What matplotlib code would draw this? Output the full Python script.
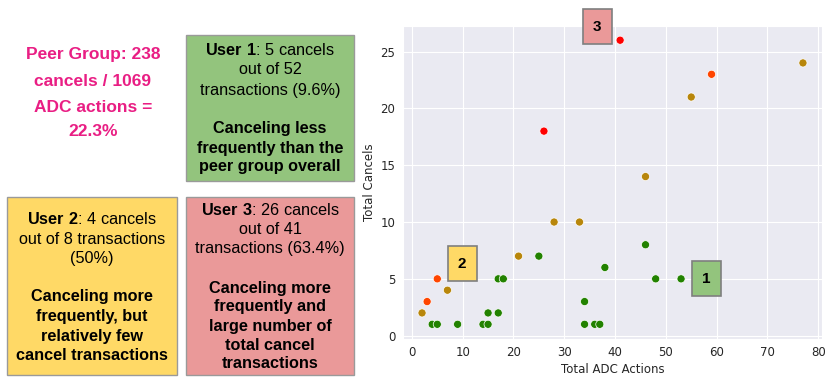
import matplotlib
matplotlib.use("Agg")
import matplotlib.pyplot as plt
import seaborn as sns
from matplotlib.patches import Rectangle

sns.set_style("darkgrid")
plt.rcParams['font.family'] = ['DejaVu Sans']
plt.rcParams['mathtext.fontset'] = 'custom'
plt.rcParams['mathtext.bf'] = 'Liberation Sans:bold'
plt.rcParams['mathtext.rm'] = 'Liberation Sans'

# data
total_actions = [26, 41, 59, 5, 3, 77, 55, 46, 28, 33, 21, 7, 2,
                 46, 38, 48, 53, 25, 17, 18, 15, 17, 34, 4, 5, 9, 14, 15, 34, 36, 37]
total_cancels = [18, 26, 23, 5, 3, 24, 21, 14, 10, 10, 7, 4, 2,
                 8, 6, 5, 5, 7, 5, 5, 2, 2, 3, 1, 1, 1, 1, 1, 1, 1, 1]
point_group = ['red', 'red', 'orange', 'orange', 'orange',
               'gold', 'gold', 'gold', 'gold', 'gold', 'gold', 'gold', 'gold',
               'green', 'green', 'green', 'green', 'green', 'green', 'green', 'green',
               'green', 'green', 'green', 'green', 'green', 'green', 'green', 'green', 'green', 'green']
group_colors = {'red': '#ff0000', 'orange': '#ff4500', 'gold': '#b8860b', 'green': '#228200'}

marker_labels = ['1', '2', '3']
marker_pos_x = [58.0, 9.9, 36.5]
marker_pos_y = [5.0, 6.35, 27.2]
marker_colors = ['#93c47d', '#ffd966', '#ea9999']

peer_lines = ['Peer Group: 238', 'cancels / 1069', 'ADC actions =', '22.3%']

W, H = 831, 385
fig = plt.figure(figsize=(W / 100, H / 100), dpi=100)
ax = fig.add_axes([403 / W, 1 - 338.5 / H, (822 - 403) / W, (338.5 - 26) / H])

ax.scatter(total_actions, total_cancels, c=[group_colors[g] for g in point_group],
           s=34, edgecolors='white', linewidths=0.5, zorder=3)
ax.set_xlabel('Total ADC Actions', fontsize=8.5, color='#262626', labelpad=3)
ax.set_ylabel('Total Cancels', fontsize=8.5, color='#262626', labelpad=3)
ax.tick_params(labelsize=8.5, colors='#262626', pad=2)
ax.set_xticks([0, 10, 20, 30, 40, 50, 60, 70, 80])
ax.set_yticks([0, 5, 10, 15, 20, 25])

for lab, x, y, col in zip(marker_labels, marker_pos_x, marker_pos_y, marker_colors):
    ax.text(x, y, lab, ha='center', va='center', fontsize=11, fontweight='bold',
            family='Liberation Sans', color='black', zorder=5, clip_on=False,
            bbox=dict(boxstyle='square,pad=0.68', fc=col, ec='#7f7f7f', lw=1.2))

# left side boxes (figure pixel coords)
def fig_rect(x0, y0, x1, y1, fc):
    fig.patches.append(Rectangle((x0 / W, 1 - y1 / H), (x1 - x0) / W, (y1 - y0) / H,
                                 transform=fig.transFigure, fc=fc, ec='#9a9a9a', lw=1.0))

fig_rect(186, 35, 354, 181, '#93c47d')
fig_rect(7, 197, 177, 375, '#ffd966')
fig_rect(186, 197, 354, 375, '#ea9999')

fam = 'Liberation Sans'
for y, txt in zip([55, 81.5, 107.5, 132], peer_lines):
    fig.text(93 / W, 1 - y / H, txt, ha='center', va='center', fontsize=12.5,
             fontweight='bold', color='#e91e84', family=fam)

FS = 11.7

def lines(xc, ys, items):
    for y, (txt, bold_prefix) in zip(ys, items):
        if bold_prefix is None:
            fig.text(xc / W, 1 - y / H, txt, ha='center', va='center', fontsize=FS,
                     fontweight='bold', family=fam, color='black')
        elif bold_prefix == '':
            fig.text(xc / W, 1 - y / H, txt, ha='center', va='center', fontsize=FS,
                     family=fam, color='black')
        else:
            fig.text(xc / W, 1 - y / H, r'$\bf{' + bold_prefix.replace(' ', r'\ ') + '}$' + txt,
                     ha='center', va='center', fontsize=FS, family=fam, color='black')

lines(270, [50, 70, 90, 129, 148, 167],
      [(': 5 cancels', 'User 1'), ('out of 52', ''), ('transactions (9.6%)', ''),
       ('Canceling less', None), ('frequently than the', None), ('peer group overall', None)])
lines(92, [219, 239, 258, 297, 316, 336, 355],
      [(': 4 cancels', 'User 2'), ('out of 8 transactions', ''), ('(50%)', ''),
       ('Canceling more', None), ('frequently, but', None), ('relatively few', None),
       ('cancel transactions', None)])
lines(270, [210, 229, 248, 288, 307, 326, 345, 364],
      [(': 26 cancels', 'User 3'), ('out of 41', ''), ('transactions (63.4%)', ''),
       ('Canceling more', None), ('frequently and', None), ('large number of', None),
       ('total cancel', None), ('transactions', None)])

fig.savefig('out.png', dpi=100)
